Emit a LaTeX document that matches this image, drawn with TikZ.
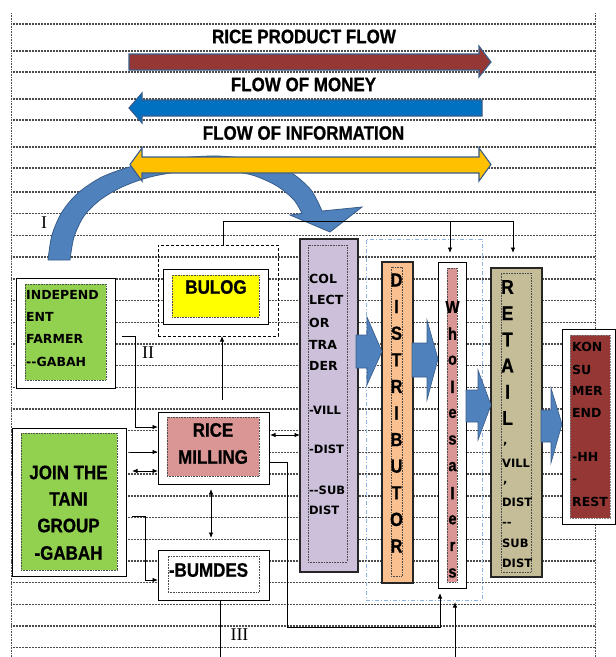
\documentclass[tikz,border=0pt]{standalone}
\usepackage{fontspec}
\usetikzlibrary{arrows.meta}
\newfontfamily\bigf[FakeStretch=0.87,FakeBold=0.8]{Liberation Sans Bold}
\newfontfamily\smf{DejaVu Sans}
\newfontfamily\romf{Liberation Serif}
\definecolor{redbar}{HTML}{953735}
\definecolor{moneyblue}{HTML}{0070C0}
\definecolor{infoyellow}{HTML}{FFC000}
\definecolor{edgeblue}{HTML}{385D8A}
\definecolor{arcblue}{HTML}{4F81BD}
\definecolor{farmgreen}{HTML}{92D050}
\definecolor{bulogyellow}{HTML}{FFFF00}
\definecolor{millpink}{HTML}{DA9694}
\definecolor{lavender}{HTML}{CCC0DA}
\definecolor{peach}{HTML}{FAC090}
\definecolor{khaki}{HTML}{C4BD97}
\definecolor{konsred}{HTML}{953735}
\definecolor{dashblue}{HTML}{8DB3E2}
\newcommand\mybox[6]{%
  \node[#6, minimum width={(#4-#2)*1pt}, minimum height={(#5-#3)*1pt}] (#1) at ({(#2+#4)/2},{(#3+#5)/2}) {};}
\tikzset{
  bgline/.style={line width=1.4pt, black!70, dash pattern=on 0.9pt off 0.6pt},
  vline/.style={line width=0.7pt, black!70, dash pattern=on 0.8pt off 0.8pt},
  plainbox/.style={draw=black, fill=white, line width=1pt, inner sep=0pt, outer sep=0pt},
  dotbox/.style={draw=black!70, densely dotted, line width=0.6pt, inner sep=0pt, outer sep=0pt},
  colbox/.style={draw=black!85, line width=1.1pt, inner sep=0pt, outer sep=0pt},
  dashbox/.style={draw=black, dash pattern=on 3pt off 2pt, line width=0.9pt, inner sep=0pt, outer sep=0pt},
  dashdotbox/.style={draw=dashblue, dash pattern=on 4pt off 2pt on 1pt off 2pt, line width=0.9pt, inner sep=0pt, outer sep=0pt},
  flowarrow/.style={draw=edgeblue, line width=1.1pt, line join=miter},
  blockarrow/.style={fill=arcblue, draw=edgeblue, line width=0.6pt},
  bigtxt/.style={font=\bigf\fontsize{19.5}{20}\selectfont, inner sep=0pt},
  vlet/.style={font=\bigf\fontsize{19}{20}\selectfont, inner sep=0pt},
  wlet/.style={font=\bigf\fontsize{17}{18}\selectfont, inner sep=0pt},
  rlet/.style={font=\bigf\fontsize{20}{21}\selectfont, inner sep=0pt},
  smtxt/.style={font=\smf\bfseries\fontsize{12.5}{13}\selectfont, inner sep=0pt, anchor=west},
  subtxt/.style={font=\smf\bfseries\fontsize{11.5}{12}\selectfont, inner sep=0pt, anchor=west},
  numtxt/.style={font=\romf\fontsize{18}{19}\selectfont, inner sep=0pt},
  conn/.style={line width=0.8pt, black},
  >={Latex[length=5.5pt,width=4.5pt]}
}
\begin{document}
\begin{tikzpicture}[x=1pt,y=-1pt]
\useasboundingbox (0,0) rectangle (616,657);
% ruled background
\foreach \yy in {24,51,72,99,120,147,168,192} \draw[bgline] (11,\yy) -- (595,\yy);
\foreach \k in {1,...,21} \draw[bgline] (11,{192+21.7*\k}) -- (595,{192+21.7*\k});
\draw[vline] (11,13) -- (11,657);
\draw[vline] (595,13) -- (595,657);

% curved arrow
\filldraw[fill=arcblue, draw=edgeblue, line width=0.8pt]
  plot[smooth] coordinates {(48,260) (52,235) (62,212) (78,193) (102,177) (133,166) (170,159) (217,156) (260,161) (290,172) (311,190) (322,211)}
  -- (362,207) -- (330,232) -- (290,215)
  -- plot[smooth] coordinates {(302,213.5) (294,200) (277,186) (252,175) (220,170) (185,171) (150,177) (122,187) (100,200) (84,216) (74,237) (70,260)}
  -- cycle;

% flow arrows
\filldraw[flowarrow, fill=redbar] (129,54) -- (479,54) -- (479,46) -- (491,62) -- (479,77) -- (479,70) -- (129,70) -- cycle;
\filldraw[flowarrow, fill=moneyblue] (129,108) -- (142,93) -- (142,100) -- (482,100) -- (482,116) -- (142,116) -- (142,123) -- cycle;
\filldraw[flowarrow, fill=infoyellow] (130,164.5) -- (142,148) -- (142,157) -- (479,157) -- (479,148) -- (491,164.5) -- (479,181) -- (479,173) -- (142,173) -- (142,181) -- cycle;

\node[bigtxt] (t1) at (304,36.5) {RICE PRODUCT FLOW};
\node[bigtxt] (t2) at (303.5,84.5) {FLOW OF MONEY};
\node[bigtxt] (t3) at (303.5,133) {FLOW OF INFORMATION};

% boxes
\mybox{farmer}{16}{278}{115}{388}{plainbox}
\mybox{farmerin}{25}{284}{106}{380}{dotbox, fill=farmgreen}
\mybox{join}{12}{428}{126}{576}{plainbox}
\mybox{joinin}{21}{433}{117}{570}{dotbox, fill=farmgreen}
\mybox{bulogdash}{158}{245}{278}{336}{dashbox}
\mybox{bulog}{163}{269}{268}{324}{plainbox}
\mybox{bulogin}{172}{275}{259}{317}{dotbox, fill=bulogyellow}
\mybox{mill}{158}{412}{269}{484}{plainbox}
\mybox{millin}{167}{417}{259}{476}{dotbox, fill=millpink}
\mybox{bumdes}{158}{550}{269}{600}{plainbox}
\mybox{bumdesin}{168}{556}{259}{592}{dotbox}
\mybox{coll}{300}{239}{358}{572}{colbox, fill=lavender}
\mybox{collin}{308}{245}{347}{562}{dotbox}
\mybox{bluebox}{366}{239}{482}{600}{dashdotbox}
\mybox{dist}{382}{262}{413}{583}{colbox, fill=peach}
\mybox{distin}{391}{267}{402}{576}{dotbox}
\mybox{whole}{438}{262}{466}{588}{plainbox}
\mybox{wholein}{447}{268}{457}{582}{dotbox, fill=millpink}
\mybox{retail}{491}{268}{542}{577}{colbox, fill=khaki}
\mybox{retailin}{501}{273}{531}{572}{dotbox}
\mybox{kons}{562}{329}{615}{524}{plainbox}
\mybox{konsin}{570}{335}{610}{518}{dotbox, fill=konsred, draw=black!50}

% texts
\node[smtxt] (f1) at (26,295) {INDEPEND};
\node[smtxt] (f2) at (26,317) {ENT};
\node[smtxt] (f3) at (26,339) {FARMER};
\node[smtxt] (f4) at (26,362) {-{}-GABAH};

\node[bigtxt] (j1) at (68.5,472.5) {JOIN THE};
\node[bigtxt] (j2) at (68.5,499) {TANI};
\node[bigtxt] (j3) at (68.5,525.5) {GROUP};
\node[bigtxt] (j4) at (68.5,553) {-GABAH};

\node[bigtxt] (bl) at (216,287) {BULOG};
\node[bigtxt] (m1) at (213,430) {RICE};
\node[bigtxt] (m2) at (213,457) {MILLING};
\node[bigtxt] (bm) at (208.5,570) {-BUMDES};

\node[smtxt] (c1) at (309,279) {COL};
\node[smtxt] (c2) at (309,300) {LECT};
\node[smtxt] (c3) at (309,323) {OR};
\node[smtxt] (c4) at (309,345) {TRA};
\node[smtxt] (c5) at (309,366) {DER};
\node[subtxt] (c6) at (309,410) {-VILL};
\node[subtxt] (c7) at (309,449) {-DIST};
\node[subtxt] (c8) at (309,490) {--SUB};
\node[subtxt] (c9) at (309,510) {DIST};

\foreach \l [count=\i from 0] in {D,I,S,T,R,I,B,U,T,O,R}
  \node[vlet] (d\i) at (396.5,{280+26.6*\i}) {\l};
\foreach \l [count=\i from 0] in {W,h,o,l,e,s,a,l,e,r,s}
  \node[wlet] (w\i) at (452.5,{307+26.6*\i}) {\l};
\foreach \l [count=\i from 0] in {R,E,T,A,I,L}
  \node[rlet] (r\i) at (507.5,{287+26.2*\i}) {\l};
\node[subtxt, anchor=base west] (rs1) at (503,444) {,};
\node[subtxt] (rs2) at (502,463) {VILL};
\node[subtxt, anchor=base west] (rs3) at (503,483) {,};
\node[subtxt] (rs4) at (502,502) {DIST};
\node[subtxt, anchor=base west] (rs5) at (502,526.5) {--};
\node[subtxt] (rs6) at (502,543) {SUB};
\node[subtxt] (rs7) at (502,563) {DIST};

\node[smtxt] (k1) at (572,347) {KON};
\node[smtxt] (k2) at (572,370) {SU};
\node[smtxt] (k3) at (572,391) {MER};
\node[smtxt] (k4) at (572,413) {END};
\node[smtxt] (k5) at (572,457) {-HH};
\node[smtxt, anchor=base west] (k6) at (572,483.5) {-};
\node[smtxt] (k7) at (572,502) {REST};

\node[numtxt] (n1) at (44,223) {I};
\node[numtxt] (n2) at (148,353) {II};
\node[numtxt] (n3) at (239.5,635) {III};

% connectors
\coordinate (bt) at (223,245);
\coordinate (rt) at (513,221);
\coordinate (rta) at (513,253);
\coordinate (wt) at (450,221);
\coordinate (wta) at (450,253);
\draw[conn] (bt) |- (rt);
\draw[conn,->] (rt) -- (rta);
\draw[conn,->] (wt) -- (wta);

\coordinate (mb) at (222,400);
\draw[conn,->] (mb) -- (mb |- bulogdash.south);

\coordinate (fo) at (122,336);
\coordinate (fm) at (135,336);
\coordinate (mi1) at (158,427);
\draw[conn,->] (fo) -- (fm) |- (mi1);

\coordinate (jo1) at (130,452);
\coordinate (mi2) at (158,452);
\draw[conn,->] (jo1) -- (mi2);
\coordinate (jo2) at (132,471);
\coordinate (mi3) at (158,471);
\draw[conn,<->] (jo2) -- (mi3);

\coordinate (jo3) at (132,516);
\coordinate (jm) at (145,516);
\coordinate (bw) at (158,580);
\draw[conn,->] (jo3) -- (jm) |- (bw);

\coordinate (ms) at (211,489);
\coordinate (bn) at (211,538);
\draw[conn,<->] (ms) -- (bn);

\coordinate (me1) at (270,435);
\draw[conn,<->] (me1) -- (me1 -| coll.west);

\coordinate (me2) at (269,462);
\coordinate (lowc) at (287,627);
\coordinate (wb) at (440,593);
\draw[conn,->] (me2) -| (lowc) -| (wb);

\coordinate (bs) at (220,600);
\coordinate (bend) at (220,657);
\draw[conn] (bs) -- (bend);
\coordinate (ub) at (455,657);
\coordinate (ue) at (455,602);
\draw[conn,->] (ub) -- (ue);

% block arrows
\filldraw[blockarrow] (356,335) -- (367,335) -- (367,317) -- (382,351.5) -- (367,385) -- (367,368) -- (356,368) -- cycle;
\filldraw[blockarrow] (412,343) -- (427,343) -- (427,320) -- (438,359) -- (427,400) -- (427,377) -- (412,377) -- cycle;
\filldraw[blockarrow] (466,390) -- (478,390) -- (478,370) -- (491,405) -- (478,440) -- (478,422) -- (466,422) -- cycle;
\filldraw[blockarrow] (541,410) -- (551,410) -- (551,388) -- (562,424) -- (551,463) -- (551,442) -- (541,442) -- cycle;
\end{tikzpicture}
\end{document}
